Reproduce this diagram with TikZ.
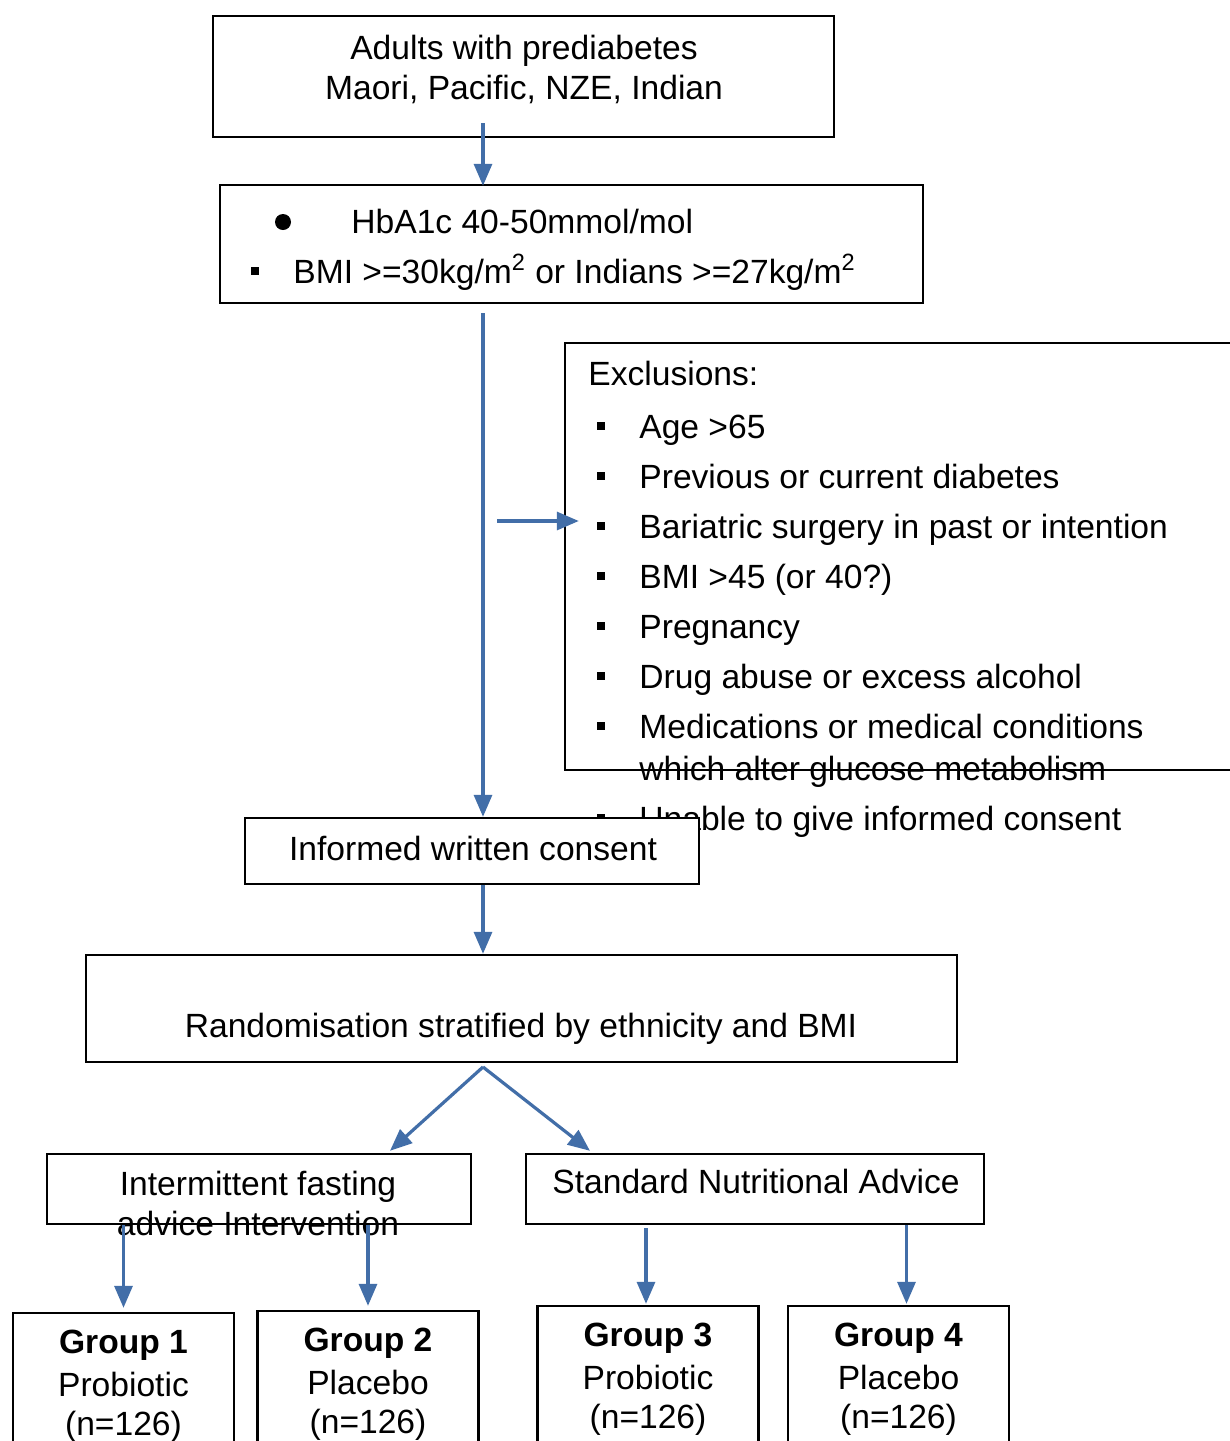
\documentclass[tikz,border=0pt]{standalone}
\usepackage{fontspec}
\setmainfont{Liberation Sans}
\usetikzlibrary{arrows.meta}
\usetikzlibrary{positioning}
\usetikzlibrary{calc}
\definecolor{arrowblue}{RGB}{66,110,168}

\begin{document}
\begin{tikzpicture}
		[x=0.5pt,y=-0.5pt,
		box/.style={draw,line width=1.2pt,inner sep=0pt},
		txt/.style={inner sep=0pt,font=\fontsize{16.8}{20.5}\selectfont},
		sq/.style={rectangle,fill=black,inner sep=0pt,minimum size=3.8pt},
		arr/.style={draw=arrowblue,line width=1.6pt,-{Triangle[width=9pt,length=11pt]}}]
		\clip (0,0) rectangle (1230,1441);
		\fill[white] (0,0) rectangle (1230,1441);
		\coordinate (spine) at (483,0);
		
		% population
		\node[box,minimum width=310.5pt,minimum height=60.5pt] (adults) at (523.5,76.5) {};
		\node[txt,anchor=base] (adults1) at (524,59) {Adults with prediabetes};
		\node[txt,anchor=base] (adults2) at (524,99) {Maori, Pacific, NZE, Indian};
		
		% inclusion criteria
		\node[box,minimum width=351.5pt,minimum height=59pt] (crit) at (571.5,244) {};
		\node[circle,fill=black,inner sep=0pt,minimum size=8pt] (dot1) at (283,222) {};
		\node[txt,anchor=base west] (hba) at (351,233) {HbA1c 40-50mmol/mol};
		\node[sq,minimum size=4pt] (dot2) at (255,271) {};
		\node[txt,anchor=base west] (bmi) at (293,283) {BMI >=30kg/m\textsuperscript{2} or Indians >=27kg/m\textsuperscript{2}};
		
		% exclusions
		\node[box,minimum width=342.5pt,minimum height=213.5pt] (excl) at (907.5,556.5) {};
		\node[txt,anchor=base west] (exhead) at (588,385) {Exclusions:};
		\foreach \i/\item in {1/Age >65, 2/Previous or current diabetes, 3/Bariatric surgery in past or intention,
			4/BMI >45 (or 40?), 5/Pregnancy, 6/Drug abuse or excess alcohol, 7/Medications or medical conditions}
		{
			\node[sq] (bx\i) at (601,376+50*\i) {};
			\node[txt,anchor=base west] (ex\i) at (639,388+50*\i) {\item};
		}
		\node[txt,anchor=base west] (ex7b) at (639,780) {which alter glucose metabolism};
		\node[sq] (bx8) at (601,818) {};
		\node[txt,anchor=base west] (ex8) at (639,830) {Unable to give informed consent};
		
		% consent and randomisation
		\node[box,fill=white,minimum width=227pt,minimum height=33pt] (consent) at (472,851) {};
		\node[txt,anchor=base] (consentT) at (473,860) {Informed written consent};
		\node[box,minimum width=435.5pt,minimum height=53.5pt] (random) at (521.5,1008.5) {};
		\node[txt,anchor=base] (randomT) at (521,1037) {Randomisation stratified by ethnicity and BMI};
		
		% arms
		\node[box,minimum width=212pt,minimum height=35pt] (ifast) at (259,1189) {};
		\node[txt,anchor=base] (ifast1) at (258,1195) {Intermittent fasting};
		\node[txt,anchor=base] (ifast2) at (258,1235) {advice Intervention};
		\node[box,minimum width=229pt,minimum height=35pt] (sna) at (755,1189) {};
		\node[txt,anchor=base] (snaT) at (756,1193) {Standard Nutritional Advice};
		
		% groups
		\foreach \n/\cx/\top/\kind in {1/123.5/1313/Probiotic, 2/368/1311/Placebo, 3/648/1306/Probiotic, 4/898.5/1306/Placebo}
		{
			\node[box,minimum width=110.5pt,minimum height=75pt] (g\n) at (\cx,\top+75) {};
			\node[txt,anchor=base,font=\fontsize{16.8}{20.5}\selectfont\bfseries] (g\n a) at (\cx,\top+40) {Group \n};
			\node[txt,anchor=base] (g\n b) at (\cx,\top+83) {\kind};
			\node[txt,anchor=base] (g\n c) at (\cx,\top+122) {(n=126)};
		}
		
		\coordinate (exclfrom) at (497,521);
		\coordinate (split) at (483,1067);
		\draw[arr] ($(adults.south -| spine)+(0,-15)$) -- ($(crit.north -| spine)+(0,2)$);
		\draw[arr] ($(crit.south -| spine)+(0,9)$) -- (consent.north -| spine);
		\draw[arr] (exclfrom) -- ($(excl.west |- exclfrom)+(15,0)$);
		\draw[arr] (consent.south -| spine) -- (random.north -| spine);
		\draw[arr] (split) -- ($(ifast.north)+(131,-2)$);
		\draw[arr] (split) -- ($(sna.north)+(-165,-2)$);
		\draw[arr] (ifast.south -| g1.north) -- ($(g1.north)+(0,-4)$);
		\draw[arr] (ifast.south -| g2.north) -- ($(g2.north)+(0,-4)$);
		\draw[arr] ($(sna.south -| g3.north)+(-2,3)$) -- ($(g3.north)+(-2,-1)$);
		\draw[arr] ($(sna.south -| g4.north)+(8,0)$) -- ($(g4.north)+(8,-1)$);
\end{tikzpicture}
\end{document}
